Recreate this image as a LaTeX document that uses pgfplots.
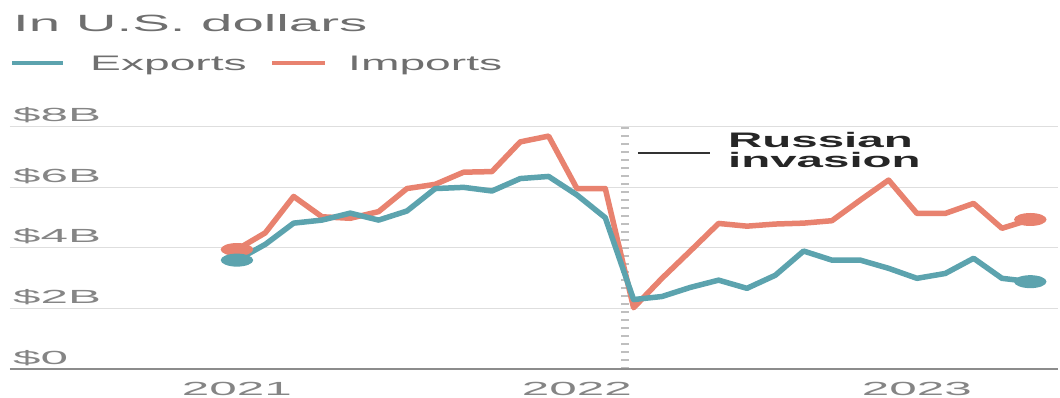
\documentclass[border=0pt]{standalone}
\usepackage{pgfplots}
\pgfplotsset{compat=1.18}
\usepackage{fontspec}
\setmainfont{Liberation Sans}
\definecolor{expc}{HTML}{5CA3AE}
\definecolor{impc}{HTML}{E8826F}
\definecolor{txtgray}{HTML}{6F6F6F}
\definecolor{tickgray}{HTML}{858585}
\pgfdeclareplotmark{ell}{\pgfpathellipse{\pgfpointorigin}{\pgfpoint{2.5\pgfplotmarksize}{0pt}}{\pgfpoint{0pt}{\pgfplotmarksize}}\pgfusepathqfill}
\newcommand{\sx}[2]{\scalebox{#1}[1]{#2}}

\begin{document}
\begin{tikzpicture}
\path[use as bounding box] (0,0) rectangle (1060pt,398pt);
\begin{axis}[
  at={(10pt,28.7pt)}, anchor=south west,
  scale only axis, width=1048pt, height=242.6pt,
  xmin=-8.01, xmax=28.98, ymin=0, ymax=8,
  axis line style={draw=none}, major tick length=0pt,
  ytick={0,2,4,6,8},
  yticklabels={\sx{2.6}{\$0},\sx{2.6}{\$2B},\sx{2.6}{\$4B},\sx{2.6}{\$6B},\sx{2.6}{\$8B}},
  yticklabel style={anchor=base west, inner sep=0pt, xshift=3pt, yshift=5pt,
    font=\fontsize{19pt}{22pt}\selectfont, text=tickgray},
  xtick={0,12,24},
  xticklabels={\sx{2.6}{2021},\sx{2.6}{2022},\sx{2.6}{2023}},
  xticklabel style={anchor=base, inner sep=0pt, yshift=-26.5pt,
    font=\fontsize{19pt}{22pt}\selectfont, text=tickgray},
  ymajorgrids, grid style={draw=black!13, line width=1pt},
  clip=false,
]
\draw[black!25, line width=8pt, dash pattern=on 2pt off 6pt] (axis cs:13.7,0) -- (axis cs:13.7,8.05);
\draw[black!45, line width=2pt] (rel axis cs:0,0) -- (rel axis cs:1,0);

\addplot[impc, line width=5.5pt, line join=round, mark=ell, mark indices={1,29}, mark size=6.5pt, mark options={solid}]
coordinates {
(0,3.95) (1,4.5) (2,5.7) (3,5.03) (4,4.98) (5,5.2) (6,5.96) (7,6.1) (8,6.5) (9,6.52)
(10,7.5) (11,7.69) (12,5.96) (13,5.96) (14,2.03) (15,3.0) (16,3.9) (17,4.81) (18,4.72)
(19,4.79) (20,4.82) (21,4.9) (22,5.58) (23,6.24) (24,5.14) (25,5.14) (26,5.47) (27,4.65) (28,4.94)
};
\addplot[expc, line width=5.5pt, line join=round, mark=ell, mark indices={1,29}, mark size=6.5pt, mark options={solid}]
coordinates {
(0,3.6) (1,4.12) (2,4.82) (3,4.92) (4,5.15) (5,4.92) (6,5.22) (7,5.96) (8,6.0) (9,5.88)
(10,6.29) (11,6.36) (12,5.75) (13,5.0) (14,2.3) (15,2.4) (16,2.7) (17,2.94) (18,2.67)
(19,3.1) (20,3.9) (21,3.6) (22,3.6) (23,3.33) (24,3.0) (25,3.16) (26,3.66) (27,3.0) (28,2.89)
};

\draw[black!80, line width=1.8pt] (axis cs:14.15,7.12) -- (axis cs:16.7,7.12);
\node[anchor=base west, inner sep=0pt, text=black!85, font=\bfseries\fontsize{21pt}{24pt}\selectfont] at (axis cs:17.33,7.33) {\sx{2.26}{Russian}};
\node[anchor=base west, inner sep=0pt, text=black!85, font=\bfseries\fontsize{21pt}{24pt}\selectfont] at (axis cs:17.33,6.64) {\sx{2.26}{invasion}};
\end{axis}

\node[anchor=base west, inner sep=0pt, text=txtgray, font=\fontsize{23.5pt}{26pt}\selectfont] at (13pt,366.3pt) {\sx{2.4}{In U.S. dollars}};
\draw[expc, line width=4.5pt] (12pt,335pt) -- (63pt,335pt);
\node[anchor=base west, inner sep=0pt, text=txtgray, font=\fontsize{21pt}{24pt}\selectfont] at (90pt,327.5pt) {\sx{2.2}{Exports}};
\draw[impc, line width=4.5pt] (272pt,335pt) -- (325pt,335pt);
\node[anchor=base west, inner sep=0pt, text=txtgray, font=\fontsize{21pt}{24pt}\selectfont] at (348pt,327.5pt) {\sx{2.2}{Imports}};
\end{tikzpicture}
\end{document}
